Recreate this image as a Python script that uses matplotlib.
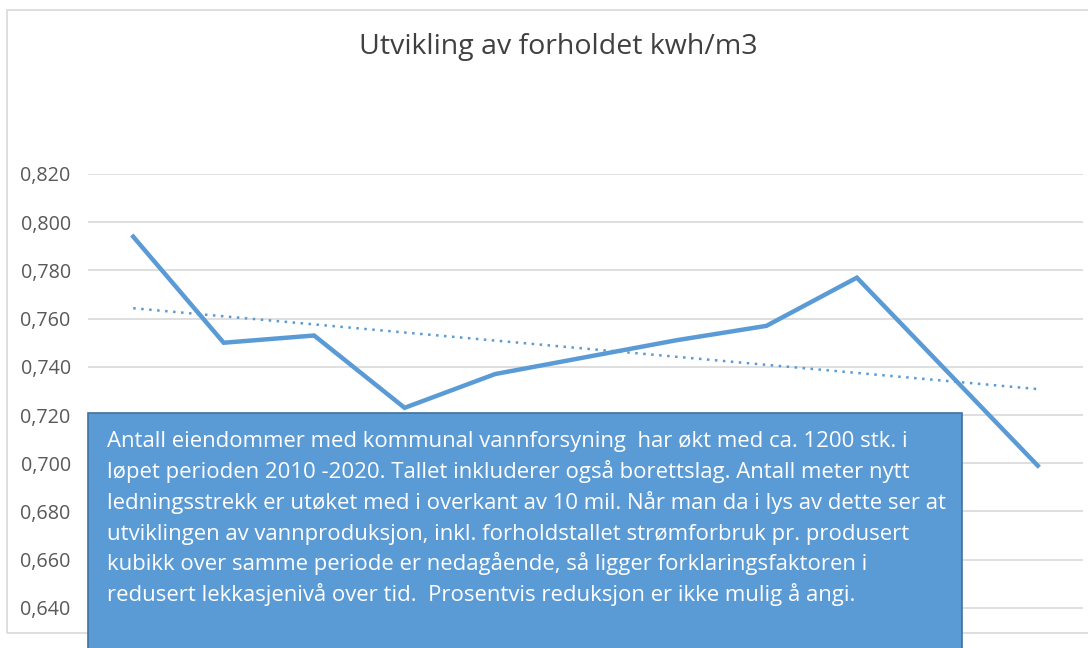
import matplotlib
matplotlib.use("Agg")
import matplotlib.pyplot as plt
from matplotlib.patches import Rectangle
from matplotlib.ticker import FuncFormatter
import numpy as np

years = [2010, 2011, 2012, 2013, 2014, 2015, 2016, 2017, 2018, 2019, 2020]
kwh_per_m3 = [0.794, 0.750, 0.753, 0.723, 0.737, 0.744, 0.751, 0.757, 0.777, 0.738, 0.699]
y_ticks = [0.64, 0.66, 0.68, 0.70, 0.72, 0.74, 0.76, 0.78, 0.80, 0.82]
title = "Utvikling av forholdet kwh/m3"
note_lines = [
    "Antall eiendommer med kommunal vannforsyning  har økt med ca. 1200 stk. i",
    "løpet perioden 2010 -2020. Tallet inkluderer også borettslag. Antall meter nytt",
    "ledningsstrekk er utøket med i overkant av 10 mil. Når man da i lys av dette ser at",
    "utviklingen av vannproduksjon, inkl. forholdstallet strømforbruk pr. produsert",
    "kubikk over samme periode er nedagående, så ligger forklaringsfaktoren i",
    "redusert lekkasjenivå over tid.  Prosentvis reduksjon er ikke mulig å angi.",
]

plt.rcParams['font.family'] = ['Open Sans', 'DejaVu Sans']

W, H = 1088, 648
fig = plt.figure(figsize=(W / 100, H / 100), dpi=100)

# chart frame
fig.patches.append(Rectangle((7 / W, (H - 633) / H), 1.2, (633 - 10) / H,
                             transform=fig.transFigure, fill=False,
                             edgecolor='#d9d9d9', linewidth=1.2, zorder=0))

ax = fig.add_axes([88 / W, (H - 632) / H, (1083 - 88) / W, (632 - 174) / H])
ax.set_xlim(years[0] - 0.5, years[-1] + 0.5)
ax.set_ylim(0.630, 0.820)
ax.set_yticks(y_ticks)
ax.yaxis.set_major_formatter(FuncFormatter(lambda v, p: f"{v:.3f}".replace('.', ',')))
ax.set_xticks([])
for s in ax.spines.values():
    s.set_visible(False)
ax.grid(axis='y', color='#d9d9d9', linewidth=1.2)
ax.set_axisbelow(True)
ax.tick_params(axis='y', length=0, pad=12.5, labelsize=14.2, labelcolor='#595959')

ax.plot(years, kwh_per_m3, color='#5b9bd5', linewidth=3.2, solid_joinstyle='miter')
coef = np.polyfit(years, kwh_per_m3, 1)
trend = np.polyval(coef, years)
ax.plot(years, trend, color='#5b9bd5', linewidth=1.8, linestyle=(0, (1, 2.2)))

fig.text(558 / W, 1 - 47 / H, title, ha='center', va='center', fontsize=20.5, color='#404040')

# note box
fig.patches.append(Rectangle((88 / W, -0.1), (962 - 88) / W, (H - 413) / H + 0.1,
                             transform=fig.transFigure, facecolor='#5b9bd5',
                             edgecolor='#41719c', linewidth=1.2, zorder=5))
baselines = [447, 478, 509, 540, 570, 601]
for line, b in zip(note_lines, baselines):
    fig.text(107 / W, 1 - b / H, line, ha='left', va='baseline', fontsize=15.9,
             color='white', zorder=6)

fig.savefig("out.png", dpi=100)
